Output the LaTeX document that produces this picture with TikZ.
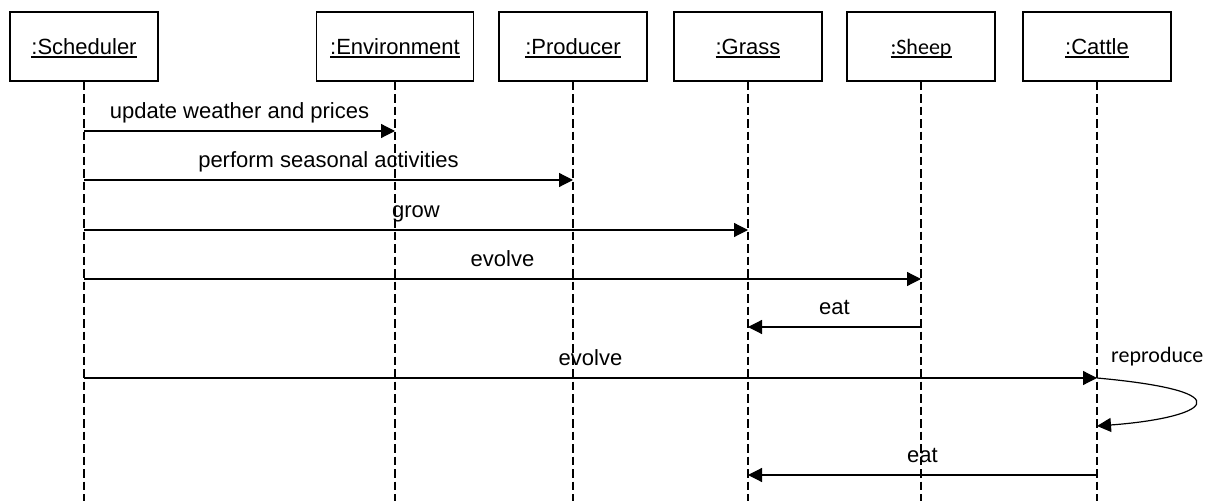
\documentclass[tikz,border=0pt]{standalone}
\usepackage{fontspec}
\setmainfont{Liberation Sans}
\newfontfamily\calib{Carlito}
\usetikzlibrary{arrows.meta}
\newcommand\myul[1]{\setbox0\hbox{#1}\rlap{\rule[-3.2bp]{\wd0}{1.2bp}}\box0}
\begin{document}
\begin{tikzpicture}[x=1bp,y=-1bp,
  obj/.style={draw, line width=1.2bp, minimum width=148bp, minimum height=69bp, inner sep=0pt,
    text height=16bp, text depth=0bp, font=\fontsize{22bp}{26bp}\selectfont},
  life/.style={line width=2.2bp, dash pattern=on 8.5bp off 4bp},
  msg/.style={line width=1.2bp, -{Triangle[length=14bp,width=14bp]}},
  lbl/.style={font=\fontsize{22bp}{26bp}\selectfont, anchor=base, inner sep=0pt, yshift=12bp}]
\useasboundingbox (0,0) rectangle (1212,501);
% objects
\node[obj] (sch) at (84,46.5) {\myul{:Scheduler}};
\node[obj, minimum width=157bp] (env) at (395,46.5) {\myul{:Environment}};
\node[obj] (pro) at (573,46.5) {\myul{:Producer}};
\node[obj] (gra) at (748,46.5) {\myul{:Grass}};
\node[obj] (she) at (921,46.5) {\myul{\calib :Sheep}};
\node[obj] (cat) at (1097,46.5) {\myul{:Cattle}};
% lifelines
\foreach \n in {sch,env,pro,gra,she,cat}
  \draw[life] (\n.south) -- (\n.south |- 0,501);
% messages
\draw[msg] (sch.south |- 0,131) -- (env.south |- 0,131) node[lbl, midway] {update weather and prices};
\draw[msg] (sch.south |- 0,180) -- (pro.south |- 0,180) node[lbl, midway] {perform seasonal activities};
\draw[msg] (sch.south |- 0,230) -- (gra.south |- 0,230) node[lbl, midway] {grow};
\draw[msg] (sch.south |- 0,279) -- (she.south |- 0,279) node[lbl, midway] {evolve};
\draw[msg] (she.south |- 0,327) -- (gra.south |- 0,327) node[lbl, midway] {eat};
\draw[msg] (sch.south |- 0,378) -- (cat.south |- 0,378) node[lbl, midway] {evolve};
\draw[msg] (cat.south |- 0,378) .. controls (1250,392) and (1205,418) .. (cat.south |- 0,426);
\node[font=\fontsize{22bp}{26bp}\calib, anchor=base west, inner sep=0pt] (rep) at (1111,363) {reproduce};
\draw[msg] (cat.south |- 0,475) -- (gra.south |- 0,475) node[lbl, midway] {eat};
\end{tikzpicture}
\end{document}
